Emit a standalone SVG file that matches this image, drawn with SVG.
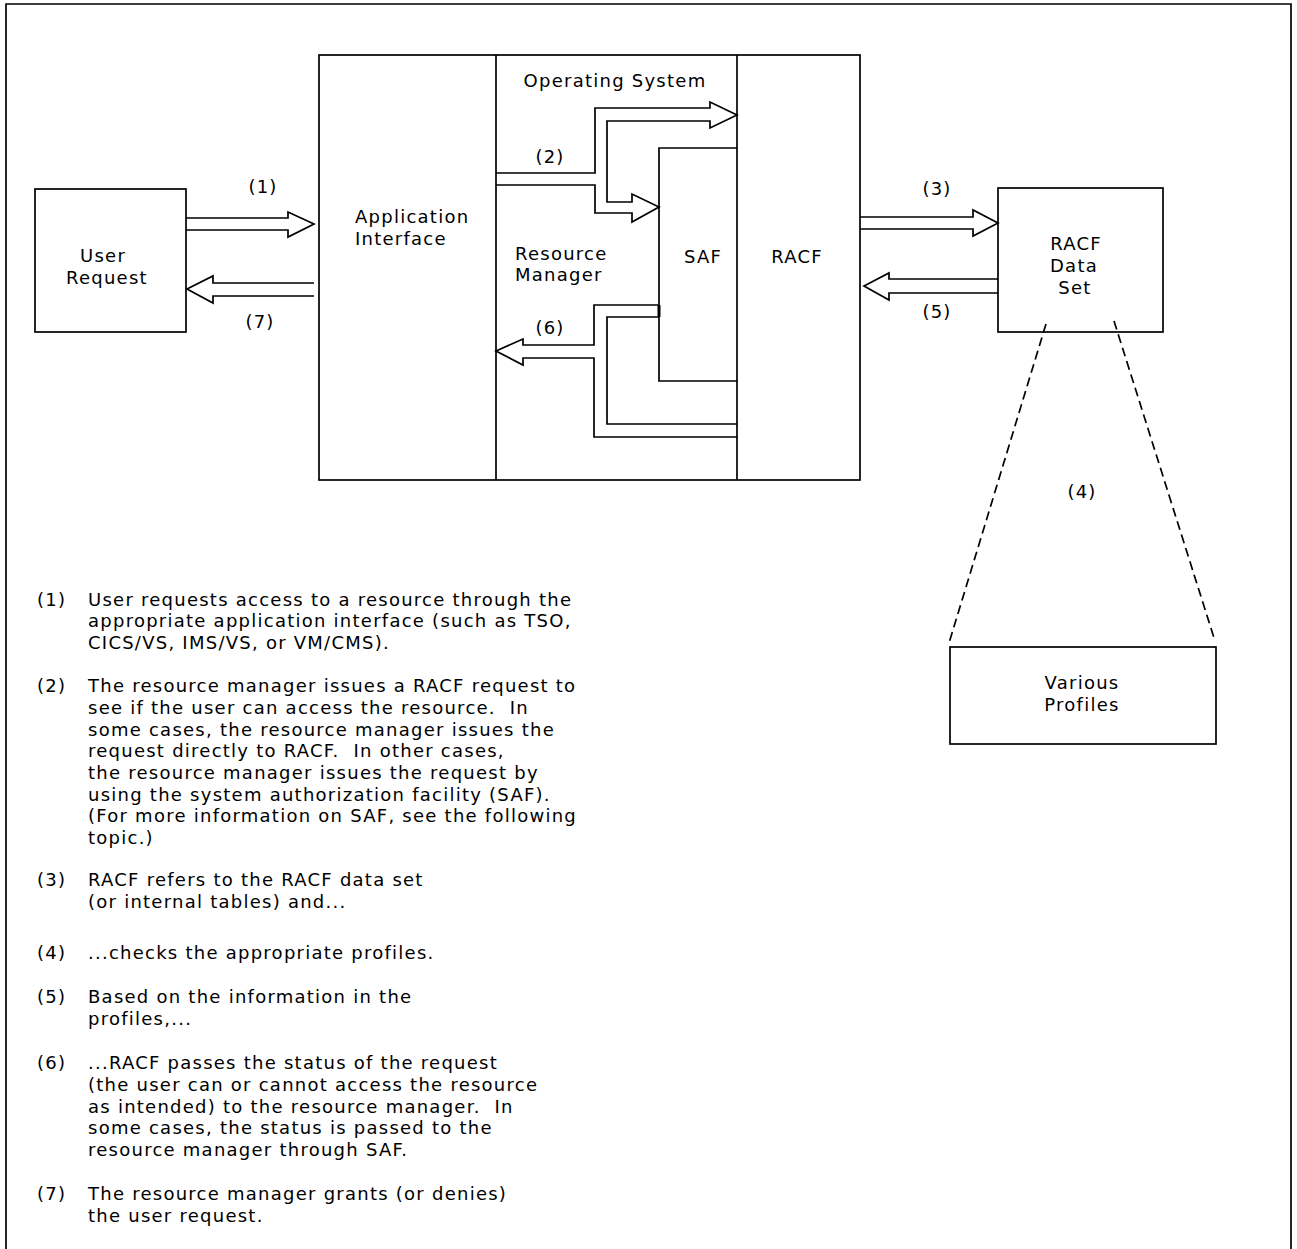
<svg xmlns="http://www.w3.org/2000/svg" width="1297" height="1249" viewBox="0 0 1297 1249">
<style>
.ln{fill:none;stroke:#000;stroke-width:1.7;stroke-linejoin:miter}
.bx{fill:none;stroke:#000;stroke-width:1.7}
.dash{fill:none;stroke:#000;stroke-width:1.7;stroke-dasharray:9 5}
text{font-family:"DejaVu Sans","Liberation Sans",sans-serif;font-size:18px;fill:#000;letter-spacing:1.25px;white-space:pre}
.m{text-anchor:middle}
</style>
<rect x="0" y="0" width="1297" height="1249" fill="#fff"/>
<path class="bx" d="M6,1260 V4 H1291 V1260"/>

<g id="user-request">
<rect class="bx" x="35" y="189" width="151" height="143"/>
<text x="80" y="262">User</text>
<text x="66" y="284">Request</text>
</g>

<g id="main-box">
<rect class="bx" x="319" y="55" width="541" height="425"/>
<line class="bx" x1="496" y1="55" x2="496" y2="480"/>
<line class="bx" x1="737" y1="55" x2="737" y2="480"/>
<text x="355" y="223">Application</text>
<text x="355" y="245">Interface</text>
<text class="m" x="615" y="87">Operating System</text>
<text x="515" y="260">Resource</text>
<text x="515" y="281">Manager</text>
<text class="m" x="797" y="263">RACF</text>
</g>

<g id="saf">
<path class="bx" d="M737,148 H659 V381 H737"/>
<line x1="659" y1="305" x2="659" y2="317" stroke="#000" stroke-width="3"/>
<text class="m" x="703" y="263">SAF</text>
</g>

<g id="racf-data-set">
<rect class="bx" x="998" y="188" width="165" height="144"/>
<text class="m" x="1076" y="250">RACF</text>
<text class="m" x="1074" y="272">Data</text>
<text class="m" x="1075" y="294">Set</text>
</g>

<g id="various-profiles">
<rect class="bx" x="950" y="647" width="266" height="97"/>
<text class="m" x="1082" y="689">Various</text>
<text class="m" x="1082" y="711">Profiles</text>
</g>

<g id="connectors">
<path class="ln" d="M186,218 H288 V212 L314,224 L288,237 V230 H186"/>
<path class="ln" d="M314,283 H213 V276 L187,289 L213,303 V296 H314"/>
<path class="ln" d="M496,173 H595 V108 H710 V102 L737,115 L710,128 V121 H607 V202 H632 V194 L659,207 L632,222 V213 H595 V185 H496"/>
<path class="ln" d="M659,305 H594 V345 H523 V339 L496,351 L523,365 V358 H594 V437 H737"/>
<path class="ln" d="M659,317 H607 V424 H737"/>
<path class="ln" d="M860,217 H973 V210 L998,223 L973,236 V229 H860"/>
<path class="ln" d="M998,279 H889 V273 L864,286 L889,300 V293 H998"/>
<line class="dash" x1="1046" y1="324" x2="949" y2="643"/>
<line class="dash" x1="1114" y1="321" x2="1215" y2="641"/>
</g>

<g id="labels">
<text class="m" x="263" y="193">(1)</text>
<text class="m" x="260" y="328">(7)</text>
<text class="m" x="550" y="163">(2)</text>
<text class="m" x="550" y="334">(6)</text>
<text class="m" x="937" y="195">(3)</text>
<text class="m" x="937" y="318">(5)</text>
<text class="m" x="1082" y="498">(4)</text>
</g>

<g id="notes">
<text x="37" y="606">(1)</text>
<text x="88" y="606">User requests access to a resource through the</text>
<text x="88" y="627">appropriate application interface (such as TSO,</text>
<text x="88" y="649">CICS/VS, IMS/VS, or VM/CMS).</text>

<text x="37" y="692">(2)</text>
<text x="88" y="692">The resource manager issues a RACF request to</text>
<text x="88" y="714">see if the user can access the resource.  In</text>
<text x="88" y="736">some cases, the resource manager issues the</text>
<text x="88" y="757">request directly to RACF.  In other cases,</text>
<text x="88" y="779">the resource manager issues the request by</text>
<text x="88" y="801">using the system authorization facility (SAF).</text>
<text x="88" y="822">(For more information on SAF, see the following</text>
<text x="88" y="844">topic.)</text>

<text x="37" y="886">(3)</text>
<text x="88" y="886">RACF refers to the RACF data set</text>
<text x="88" y="908">(or internal tables) and...</text>

<text x="37" y="959">(4)</text>
<text x="88" y="959">...checks the appropriate profiles.</text>

<text x="37" y="1003">(5)</text>
<text x="88" y="1003">Based on the information in the</text>
<text x="88" y="1025">profiles,...</text>

<text x="37" y="1069">(6)</text>
<text x="88" y="1069">...RACF passes the status of the request</text>
<text x="88" y="1091">(the user can or cannot access the resource</text>
<text x="88" y="1113">as intended) to the resource manager.  In</text>
<text x="88" y="1134">some cases, the status is passed to the</text>
<text x="88" y="1156">resource manager through SAF.</text>

<text x="37" y="1200">(7)</text>
<text x="88" y="1200">The resource manager grants (or denies)</text>
<text x="88" y="1222">the user request.</text>
</g>
</svg>
